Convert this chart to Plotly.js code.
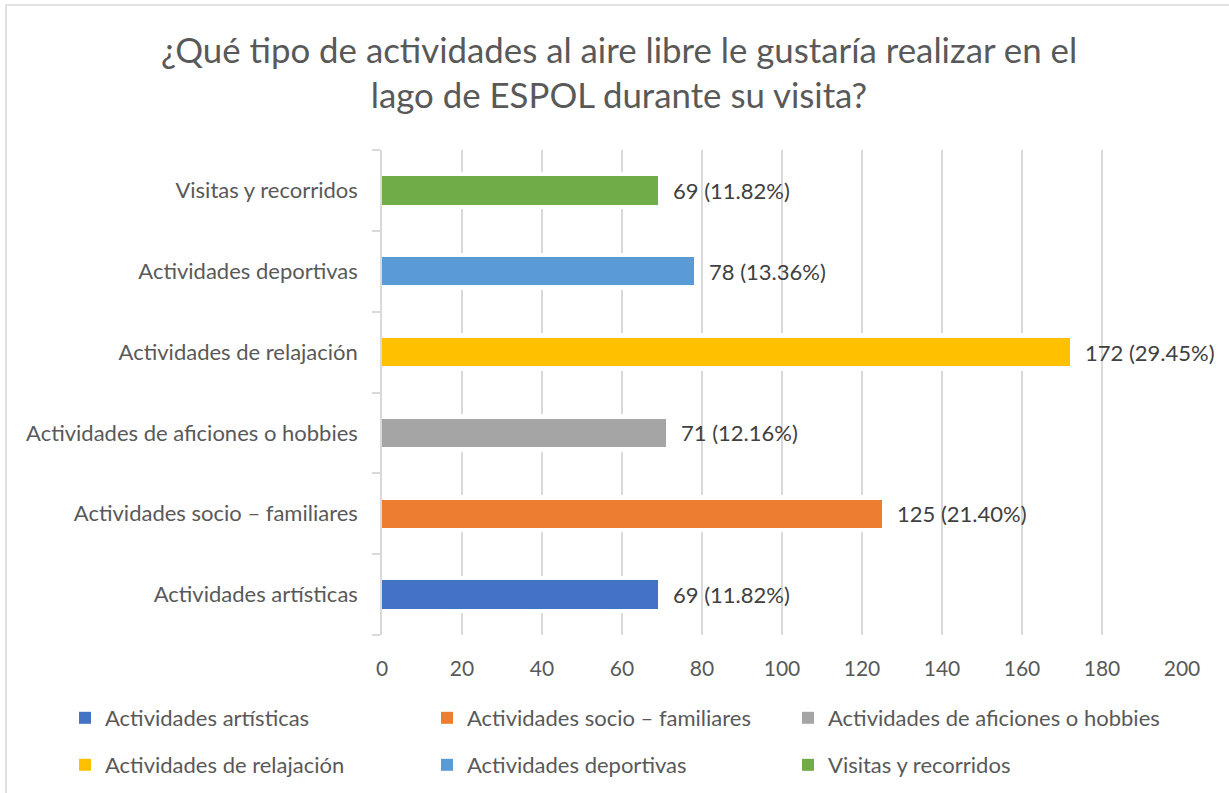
<!DOCTYPE html>
<html>
<head>
<meta charset="utf-8">
<script src="https://cdn.plot.ly/plotly-3.0.1.min.js"></script>
<style>html,body{margin:0;padding:0;background:#fff;}#chart{width:1229px;height:793px;}</style>
</head>
<body>
<div id="chart"></div>
<script>
const categories = [
  "Actividades artísticas",
  "Actividades socio – familiares",
  "Actividades de aficiones o hobbies",
  "Actividades de relajación",
  "Actividades deportivas",
  "Visitas y recorridos"
];
const values = [69, 125, 71, 172, 78, 69];
const percentLabels = ["11.82%", "21.40%", "12.16%", "29.45%", "13.36%", "11.82%"];
const colors = ["#4472C4", "#ED7D31", "#A5A5A5", "#FFC000", "#5B9BD5", "#70AD47"];
const xTicks = [0, 20, 40, 60, 80, 100, 120, 140, 160, 180, 200];
const legendIds = ["legend", "legend2", "legend3", "legend4", "legend5", "legend6"];

const FONT = "Lato, 'Open Sans', sans-serif";
const W = 1229, H = 793;
const L = 382, R = 47, T = 150, B = 158;
const pw = W - L - R, ph = H - T - B;
const px2x = p => (p - L) / pw;
const py2y = p => (H - B - p) / ph;

const traces = [];
// white halo behind bars (interrupts gridlines like the original)
traces.push({
  type: "bar", orientation: "h", y: categories, x: values, width: 0.46,
  marker: {color: "#ffffff"}, showlegend: false, hoverinfo: "skip"
});
categories.forEach((c, i) => {
  traces.push({
    type: "bar", orientation: "h", name: c, y: [c], x: [values[i]], width: 0.35,
    marker: {color: colors[i]}, legend: legendIds[i],
    hovertemplate: "%{y}: %{x}<extra></extra>"
  });
});

const annotations = categories.map((c, i) => ({
  x: values[i], y: c, xref: "x", yref: "y",
  text: values[i] + " (" + percentLabels[i] + ")",
  showarrow: false, xanchor: "left", xshift: 13,
  font: {family: FONT, size: 22, color: "#404040"}
}));

const legendCommon = {
  orientation: "h", xanchor: "left", yanchor: "middle",
  font: {family: FONT, size: 22, color: "#595959"},
  bgcolor: "rgba(0,0,0,0)",
  itemwidth: 30, itemclick: false, itemdoubleclick: false
};
// legend slots: text left edges (px) and row centres (px)
const legendX = [65, 427, 788, 65, 427, 788];
const legendY = [718, 718, 718, 765, 765, 765];

const layout = {
  width: W, height: H,
  margin: {l: L, r: R, t: T, b: B, pad: 0, autoexpand: false},
  paper_bgcolor: "#ffffff", plot_bgcolor: "#ffffff",
  font: {family: FONT, color: "#595959"},
  title: {
    text: "¿Qué tipo de actividades al aire libre le gustaría realizar en el<br>lago de ESPOL durante su visita?",
    font: {family: FONT, size: 34.8, color: "#595959"},
    xref: "container", x: 619 / W, xanchor: "center",
    yref: "container", y: 1 - 63 / H, yanchor: "top"
  },
  barmode: "overlay",
  bargap: 0,
  xaxis: {
    range: [0, 200], tickvals: xTicks, ticktext: xTicks.map(String),
    showgrid: true, gridcolor: "#D9D9D9", gridwidth: 1.5,
    zeroline: false, showline: false, ticks: "",
    tickfont: {family: FONT, size: 21, color: "#595959"},
    ticklabelstandoff: 19, fixedrange: true, automargin: false
  },
  yaxis: {
    type: "category", categoryorder: "array", categoryarray: categories,
    showgrid: false, zeroline: false,
    showline: true, linecolor: "#D9D9D9", linewidth: 1.5,
    ticks: "outside", tickson: "boundaries", ticklen: 8, tickcolor: "#D9D9D9", tickwidth: 1.5,
    tickfont: {family: FONT, size: 22, color: "#595959"},
    ticklabelstandoff: 18, fixedrange: true, automargin: false
  },
  annotations: annotations,
  shapes: [{
    type: "rect", xref: "paper", yref: "paper",
    x0: px2x(6), x1: px2x(1260), y0: py2y(830), y1: py2y(5),
    line: {color: "#D9D9D9", width: 1.5}, fillcolor: "rgba(0,0,0,0)", layer: "below"
  }],
  showlegend: true
};
legendIds.forEach((id, i) => {
  layout[id] = Object.assign({}, legendCommon, {x: px2x(legendX[i]), y: py2y(legendY[i])});
});

Plotly.newPlot("chart", traces, layout, {displayModeBar: false});
</script>
</body>
</html>
